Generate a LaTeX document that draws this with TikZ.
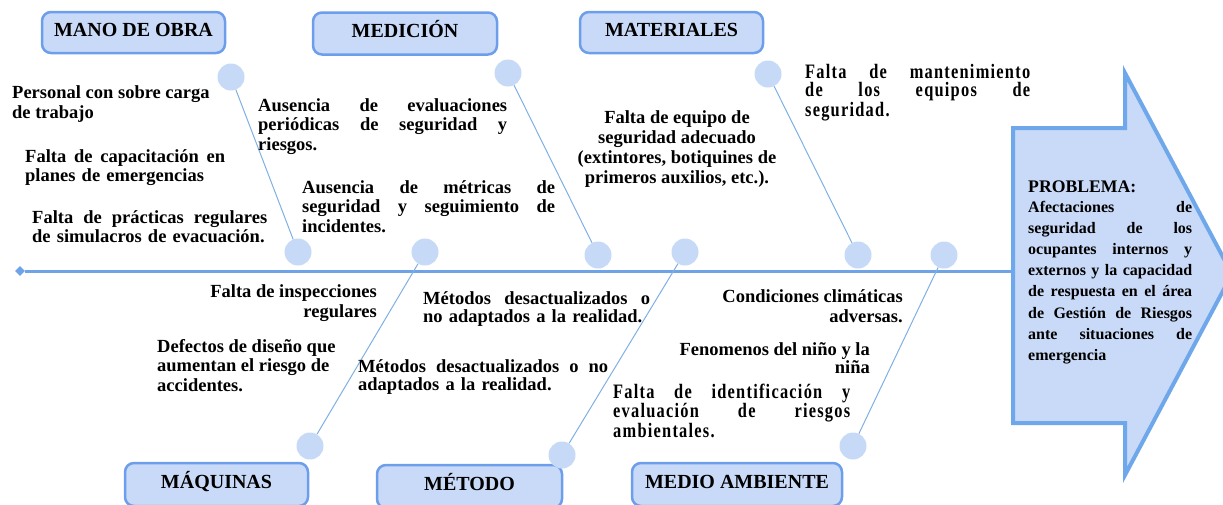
\documentclass[tikz,border=0pt]{standalone}
\usepackage{fontspec}
\setmainfont{Liberation Serif}
\newfontfamily\spacedfont[LetterSpace=6,FakeStretch=0.8]{Liberation Serif}
\usetikzlibrary{shapes.geometric}
\definecolor{boxfill}{HTML}{C9DAF8}
\definecolor{boxdraw}{HTML}{6D9EEB}
\definecolor{dotfill}{HTML}{C6D9F6}
\definecolor{bonecol}{HTML}{7FB0E3}
\definecolor{spinecol}{HTML}{6FA3E8}
\definecolor{arrowdraw}{HTML}{6FA8EA}
\newcommand{\jl}[2]{\leavevmode\hbox to #1{#2}}
\begin{document}
\begin{tikzpicture}[x=1pt,y=-1pt,
  catbox/.style={draw=boxdraw, fill=boxfill, line width=2.5pt, rounded corners=9pt,
    minimum width=183pt, minimum height=41pt, inner sep=0pt, text height=13pt, text depth=6pt,
    font=\fontsize{20}{24}\selectfont\bfseries},
  dot/.style={circle, fill=dotfill, minimum size=27pt, inner sep=0pt},
  bone/.style={draw=bonecol, line width=1pt},
  spine/.style={draw=spinecol, line width=3pt},
  cause/.style={inner sep=0pt, font=\fontsize{18.5}{19.8}\selectfont\bfseries, align=left, anchor=base west},
  rcause/.style={inner sep=0pt, font=\fontsize{18.5}{19.8}\selectfont\bfseries, align=right, anchor=base east},
  scause/.style={inner sep=0pt, font=\fontsize{20.5}{18.5}\spacedfont\bfseries, align=left, anchor=base west},
]
\useasboundingbox (0,0) rectangle (1223,504);
\clip (0,0) rectangle (1223,504);

% spine
\node[diamond, fill=spinecol, minimum size=10pt, inner sep=0pt] (tail) at (20,271) {};
\coordinate (head) at (1013,271);
\draw[spine] (tail) -- (head);

% problem arrow
\draw[draw=arrowdraw, fill=boxfill, line width=4pt, miter limit=20]
  (1013,128) -- (1125,128) -- (1125,73) -- (1232,274) -- (1125,475) -- (1125,423) -- (1013,423) -- cycle;
\node[inner sep=0pt, anchor=base west, font=\fontsize{17.7}{20}\selectfont\bfseries] (probtitle) at (1028,192) {PROBLEMA:};
\node[inner sep=0pt, anchor=base west, text width=164pt, align=left, font=\fontsize{16}{21.2}\selectfont\bfseries] (probtext) at (1028,212)
 {\jl{164pt}{Afectaciones\hfill de}\\\jl{164pt}{seguridad\hfill de\hfill los}\\\jl{164pt}{ocupantes\hfill internos\hfill y}\\\jl{164pt}{externos\hfill y\hfill la\hfill capacidad}\\\jl{164pt}{de\hfill respuesta\hfill en\hfill el\hfill área}\\\jl{164pt}{de\hfill Gestión\hfill de\hfill Riesgos}\\\jl{164pt}{ante\hfill situaciones\hfill de}\\emergencia};

% category boxes
\node[catbox] (mano) at (133.5,32.5) {MANO DE OBRA};
\node[catbox, minimum width=184pt, minimum height=42pt] (medicion) at (405,33.5) {MEDICIÓN};
\node[catbox] (materiales) at (671.5,32.5) {MATERIALES};
\node[catbox, minimum height=43pt] (maquinas) at (216.5,484.5) {MÁQUINAS};
\node[catbox, minimum width=185pt, minimum height=43pt] (metodo) at (469.5,486.5) {MÉTODO};
\node[catbox, minimum width=210pt, minimum height=43pt] (medio) at (737,484.5) {MEDIO AMBIENTE};

% dots
\node[dot] (m1) at (231,77) {};
\node[dot] (m2) at (298,252) {};
\node[dot] (d1) at (508,73) {};
\node[dot] (d2) at (598,255) {};
\node[dot] (t1) at (768,74) {};
\node[dot] (t2) at (858,255) {};
\node[dot] (q1) at (310,446) {};
\node[dot] (q2) at (425,252) {};
\node[dot] (e1) at (562,455) {};
\node[dot] (e2) at (685,252) {};
\node[dot] (a1) at (853,446) {};
\node[dot] (a2) at (944,255) {};

% bones
\draw[bone] (m1) -- (m2);
\draw[bone] (d1) -- (d2);
\draw[bone] (t1) -- (t2);
\draw[bone] (q1) -- (q2);
\draw[bone] (e1) -- (e2);
\draw[bone] (a1) -- (a2);

% causes - top
\node[cause] (c1) at (12,118) {Personal con sobre carga\\de trabajo};
\node[cause, text width=200pt] (c2) at (25,162) {\jl{200pt}{Falta\hfill de\hfill capacitación\hfill en}\\planes de emergencias};
\node[cause, text width=235pt] (c3) at (32,223) {\jl{235pt}{Falta\hfill de\hfill prácticas\hfill regulares}\\de simulacros de evacuación.};
\node[cause, text width=249pt] (c4) at (258,111) {\jl{249pt}{Ausencia\hfill de\hfill evaluaciones}\\\jl{249pt}{periódicas\hfill de\hfill seguridad\hfill y}\\riesgos.};
\node[cause, text width=253pt] (c5) at (302,193) {\jl{253pt}{Ausencia\hfill de\hfill métricas\hfill de}\\\jl{253pt}{seguridad\hfill y\hfill seguimiento\hfill de}\\incidentes.};
\node[cause, align=center, anchor=base] (c6) at (677,183) {Falta de equipo de\\seguridad adecuado\\(extintores, botiquines de\\primeros auxilios, etc.).};
\node[scause, text width=225pt] (c7) at (805,78) {\jl{225pt}{Falta\hfill de\hfill mantenimiento}\\\jl{225pt}{de\hfill los\hfill equipos\hfill de}\\seguridad.};

% causes - bottom
\node[rcause] (c9) at (377,317) {Falta de inspecciones\\regulares};
\node[cause, font=\fontsize{18.5}{19.5}\selectfont\bfseries] (c10) at (157,391) {Defectos de diseño que\\aumentan el riesgo de\\accidentes.};
\node[cause, text width=227pt, font=\fontsize{18.5}{18}\selectfont\bfseries] (c11) at (423,304) {\jl{227pt}{Métodos\hfill desactualizados\hfill o}\\no adaptados a la realidad.};
\node[cause, text width=250pt, font=\fontsize{18.5}{18}\selectfont\bfseries] (c12) at (358,372) {\jl{250pt}{Métodos\hfill desactualizados\hfill o\hfill no}\\adaptados a la realidad.};
\node[rcause] (c13) at (903,322) {Condiciones climáticas\\adversas.};
\node[rcause, font=\fontsize{18.5}{18}\selectfont\bfseries] (c14) at (870,373) {Fenomenos del niño y la\\niña};
\node[scause, text width=237pt] (c15) at (613,398) {\jl{237pt}{Falta\hfill de\hfill identificación\hfill y}\\\jl{237pt}{evaluación\hfill de\hfill riesgos}\\ambientales.};
\end{tikzpicture}
\end{document}
